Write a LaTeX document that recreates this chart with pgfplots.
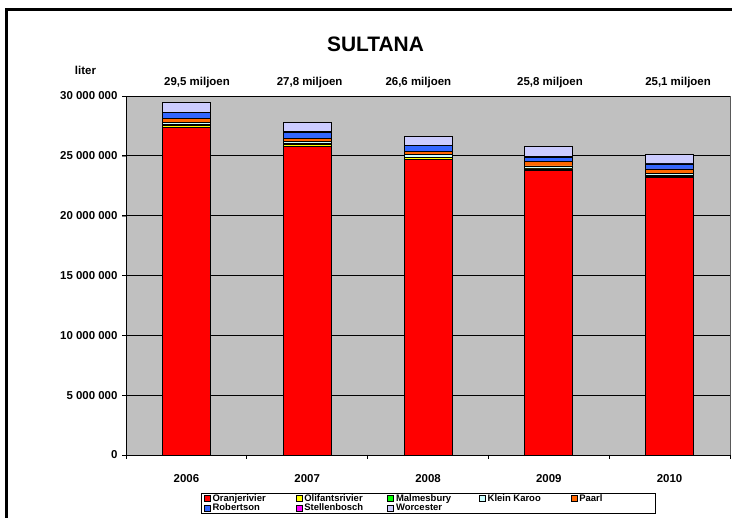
\documentclass[border=0pt]{standalone}
\usepackage{fontspec}
\setmainfont{Liberation Sans}
\usepackage{pgfplots}
\pgfplotsset{compat=1.18}
\definecolor{bggray}{RGB}{192,192,192}
\definecolor{cOran}{RGB}{255,0,0}
\definecolor{cOlif}{RGB}{255,255,0}
\definecolor{cMalm}{RGB}{0,255,0}
\definecolor{cKlein}{RGB}{204,255,255}
\definecolor{cPaarl}{RGB}{255,102,0}
\definecolor{cRob}{RGB}{51,102,255}
\definecolor{cStel}{RGB}{255,0,255}
\definecolor{cWorc}{RGB}{204,204,255}
\begin{document}
\begin{tikzpicture}[x=1bp,y=1bp]
\useasboundingbox (0,0) rectangle (736,518);
\draw[line width=3bp] (6.5,0) -- (6.5,508.5) -- (732,508.5);
\node[font=\bfseries\fontsize{21}{25}\selectfont] at (375.5,473.3) {SULTANA};
\node[font=\bfseries\fontsize{11.5}{13}\selectfont] at (85.5,447.5) {liter};
\begin{axis}[
  at={(126bp,63bp)}, anchor=south west,
  scale only axis, width=604bp, height=359bp,
  ybar stacked, bar width=48bp,
  xmin=-0.5, xmax=4.5, ymin=0, ymax=30000000,
  xtick={0,1,2,3,4},
  xticklabels={2006,2007,2008,2009,2010},
  xtick style={draw=none},
  xticklabel style={font=\bfseries\fontsize{11.5}{13}\selectfont, yshift=-12bp},
  ytick={0,5000000,10000000,15000000,20000000,25000000,30000000},
  yticklabels={0,{5 000 000},{10 000 000},{15 000 000},{20 000 000},{25 000 000},{30 000 000}},
  yticklabel style={font=\bfseries\fontsize{11.5}{13}\selectfont, xshift=-1bp},
  scaled y ticks=false,
  tick align=outside, major tick length=4bp,
  ymajorgrids, grid style={black, line width=0.8bp},
  axis background/.style={fill=bggray, draw=gray!70!black, line width=0.8bp},
  axis x line*=bottom, axis y line*=left,
  axis line style={black, line width=0.9bp, -},
  every axis plot/.append style={draw=black, line width=0.8bp},
  clip=false,
  legend columns=5,
  legend style={at={(axis description cs:0.5,-0.106)}, anchor=north,
    draw=black, line width=0.6bp, inner xsep=3bp, inner ysep=0.5bp,
    font=\bfseries\fontsize{9.5}{10}\selectfont,
    nodes={inner sep=0.6bp},
    /tikz/every odd column/.append style={column sep=1.5bp}},
  legend image code/.code={\draw[#1, draw=black, line width=0.5bp] (0bp,-3bp) rectangle (6bp,3bp);},
]
\addplot[fill=cOran] coordinates {(0,27400000) (1,25800000) (2,24700000) (3,23800000) (4,23200000)};
\addplot[fill=cOlif] coordinates {(0,150000) (1,150000) (2,150000) (3,100000) (4,100000)};
\addplot[fill=cMalm] coordinates {(0,50000) (1,50000) (2,50000) (3,50000) (4,50000)};
\addplot[fill=cKlein] coordinates {(0,200000) (1,200000) (2,200000) (3,200000) (4,200000)};
\addplot[fill=cPaarl] coordinates {(0,300000) (1,250000) (2,250000) (3,350000) (4,350000)};
\addplot[fill=cRob] coordinates {(0,500000) (1,500000) (2,500000) (3,400000) (4,420000)};
\addplot[fill=cStel] coordinates {(0,50000) (1,50000) (2,50000) (3,50000) (4,30000)};
\addplot[fill=cWorc] coordinates {(0,850000) (1,800000) (2,700000) (3,850000) (4,750000)};
\legend{\makebox[82.5bp][l]{Oranjerivier},\makebox[82.5bp][l]{Olifantsrivier},\makebox[82.5bp][l]{Malmesbury},\makebox[82.5bp][l]{Klein Karoo},\makebox[72bp][l]{Paarl},\makebox[82.5bp][l]{Robertson},\makebox[82.5bp][l]{Stellenbosch},\makebox[82.5bp][l]{Worcester}}
\draw[black, line width=0.8bp] (axis cs:-0.5,0) -- ([yshift=-4bp]axis cs:-0.5,0);
\draw[black, line width=0.8bp] (axis cs:0.5,0) -- ([yshift=-4bp]axis cs:0.5,0);
\draw[black, line width=0.8bp] (axis cs:1.5,0) -- ([yshift=-4bp]axis cs:1.5,0);
\draw[black, line width=0.8bp] (axis cs:2.5,0) -- ([yshift=-4bp]axis cs:2.5,0);
\draw[black, line width=0.8bp] (axis cs:3.5,0) -- ([yshift=-4bp]axis cs:3.5,0);
\draw[black, line width=0.8bp] (axis cs:4.5,0) -- ([yshift=-4bp]axis cs:4.5,0);
\draw[black, line width=0.8bp] (axis cs:-0.5,0) -- ([xshift=-4bp]axis cs:-0.5,0);
\draw[black, line width=0.8bp] (axis cs:-0.5,5000000) -- ([xshift=-4bp]axis cs:-0.5,5000000);
\draw[black, line width=0.8bp] (axis cs:-0.5,10000000) -- ([xshift=-4bp]axis cs:-0.5,10000000);
\draw[black, line width=0.8bp] (axis cs:-0.5,15000000) -- ([xshift=-4bp]axis cs:-0.5,15000000);
\draw[black, line width=0.8bp] (axis cs:-0.5,20000000) -- ([xshift=-4bp]axis cs:-0.5,20000000);
\draw[black, line width=0.8bp] (axis cs:-0.5,25000000) -- ([xshift=-4bp]axis cs:-0.5,25000000);
\draw[black, line width=0.8bp] (axis cs:-0.5,30000000) -- ([xshift=-4bp]axis cs:-0.5,30000000);
\node[font=\bfseries\fontsize{11.5}{13}\selectfont] at ([yshift=13bp]axis cs:0.088,30000000) {29,5 miljoen};
\node[font=\bfseries\fontsize{11.5}{13}\selectfont] at ([yshift=13bp]axis cs:1.02,30000000) {27,8 miljoen};
\node[font=\bfseries\fontsize{11.5}{13}\selectfont] at ([yshift=13bp]axis cs:1.92,30000000) {26,6 miljoen};
\node[font=\bfseries\fontsize{11.5}{13}\selectfont] at ([yshift=13bp]axis cs:3.01,30000000) {25,8 miljoen};
\node[font=\bfseries\fontsize{11.5}{13}\selectfont] at ([yshift=13bp]axis cs:4.07,30000000) {25,1 miljoen};
\end{axis}
\end{tikzpicture}
\end{document}
